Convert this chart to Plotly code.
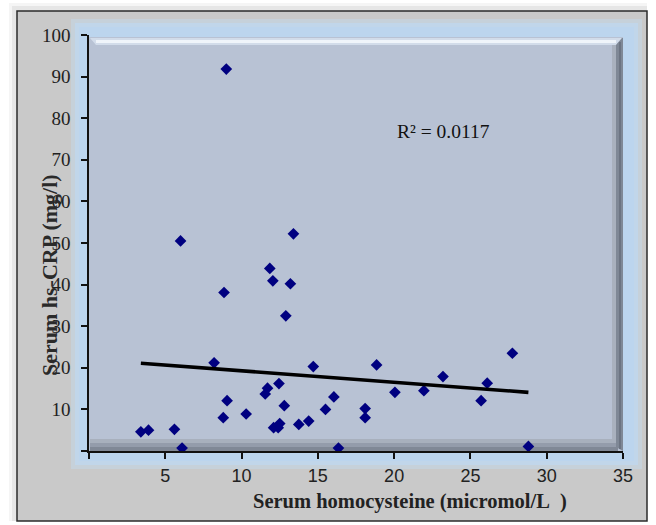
import plotly.graph_objects as go

# ---- data ----
homocysteine = [3.4, 3.9, 5.6, 6.1, 6.0, 8.2, 8.85, 8.8, 9.05, 9.0,
                10.3, 11.55, 11.7, 11.85, 12.05, 13.2, 12.9, 13.4, 12.45, 12.8,
                12.1, 12.4, 12.5, 13.75, 14.4, 14.7, 15.5, 16.05, 16.35, 18.1,
                18.1, 18.85, 20.05, 21.95, 23.2, 25.7, 26.1, 27.75, 28.8]
hs_crp = [4.6, 5.0, 5.2, 0.7, 50.5, 21.2, 38.1, 8.0, 12.1, 91.8,
          8.9, 13.7, 15.1, 43.9, 40.9, 40.2, 32.5, 52.2, 16.2, 10.9,
          5.6, 5.6, 6.6, 6.4, 7.2, 20.3, 10.0, 13.0, 0.7, 10.2,
          8.0, 20.7, 14.1, 14.5, 17.9, 12.1, 16.3, 23.5, 1.1]
# linear trendline as drawn in the reference (end points)
trend_x = [3.4, 28.8]
trend_y = [21.1, 14.1]
r2_label = "R² = 0.0117"
x_ticks = [0, 5, 10, 15, 20, 25, 30, 35]
x_tick_labels = ["", "5", "10", "15", "20", "25", "30", "35"]
y_ticks = [0, 10, 20, 30, 40, 50, 60, 70, 80, 90, 100]
y_tick_labels = ["", "10", "20", "30", "40", "50", "60", "70", "80", "90", "100"]
x_title = "Serum homocysteine (micromol/L\u00a0\u00a0)"
y_title = "Serum hs-CRP (mg/l)"

# ---- layout geometry (pixels) ----
W, H = 656, 525
L, R, T, B = 89, 33, 35, 74
PW, PH = W - L - R, H - T - B


def px(x):
    return (x - L) / PW


def py(y):
    return (H - B - y) / PH


def rect(x0, y0, x1, y1, fill, opacity=1.0, line=None):
    return dict(type="rect", xref="paper", yref="paper",
                x0=px(x0), x1=px(x1), y0=py(y1), y1=py(y0),
                fillcolor=fill, opacity=opacity, layer="below",
                line=dict(width=0) if line is None else line)


def poly(points, fill, opacity=1.0):
    path = "M " + " L ".join(f"{px(a)},{py(b)}" for a, b in points) + " Z"
    return dict(type="path", xref="paper", yref="paper", path=path,
                fillcolor=fill, opacity=opacity, layer="below",
                line=dict(width=0))


shapes = [
    # drop shadow of the chart frame
    rect(9, 3, 647, 521, "#000000", 0.04),
    rect(12, 6, 647, 521, "#000000", 0.06),
    # chart frame
    rect(17, 11, 647, 521, "#c9c9c9", 1.0, dict(color="#2b2b2b", width=1.5)),
    # blue glow around plot area
    rect(71, 19, 642, 469, "#c4d9ec", 0.5),
    rect(75, 23, 638, 465, "#bfd7ee", 0.8),
    rect(79, 27, 634, 461, "#bcd5ee", 1.0),
    # plot area
    rect(89, 37, 623, 451, "#b8c2d4"),
    # top highlight bevel
    poly([(90, 38), (622, 38), (616, 45), (96, 45)], "#d2dcea"),
    rect(96, 40, 616, 43, "#f2f6fc", 0.9),
    # right bevel
    poly([(612, 45), (616, 45), (616, 447), (612, 443)], "#a9b1be"),
    poly([(616, 45), (622, 38), (623, 38), (623, 451), (616, 447)], "#7f8896"),
    rect(619, 42, 621, 449, "#6c7482"),
    # bottom bevel
    rect(90, 439, 616, 443, "#a8b0bd"),
    rect(90, 443, 616, 447, "#949cab"),
    rect(90, 447, 618, 451, "#808896"),
]

fig = go.Figure()
fig.add_trace(go.Scatter(
    x=homocysteine, y=hs_crp, mode="markers",
    marker=dict(symbol="diamond", size=9, color="#000080",
                line=dict(width=0)),
    showlegend=False, hoverinfo="x+y"))
fig.add_trace(go.Scatter(
    x=trend_x, y=trend_y, mode="lines",
    line=dict(color="#000000", width=3.6),
    showlegend=False, hoverinfo="skip"))

annotations = [
    dict(text=r2_label, xref="paper", yref="paper", x=px(443), y=py(132),
         xanchor="center", yanchor="middle", showarrow=False,
         font=dict(family="Liberation Serif", size=19.5, color="#111111")),
    dict(text=f"<b>{x_title}</b>", xref="paper", yref="paper",
         x=px(410), y=py(502), xanchor="center", yanchor="middle",
         showarrow=False,
         font=dict(family="Liberation Serif", size=20.5, color="#222222")),
    dict(text=f"<b>{y_title}</b>", xref="paper", yref="paper",
         x=px(49), y=py(275), xanchor="center", yanchor="middle",
         textangle=-90, showarrow=False,
         font=dict(family="Liberation Serif", size=22, color="#2a2a2a")),
]

fig.update_layout(
    width=W, height=H,
    margin=dict(l=L, r=R, t=T, b=B, pad=0),
    paper_bgcolor="#ffffff",
    plot_bgcolor="rgba(0,0,0,0)",
    shapes=shapes,
    annotations=annotations,
    xaxis=dict(range=[0, 35], tickvals=x_ticks, ticktext=x_tick_labels,
               showgrid=False, zeroline=False, showline=True,
               linecolor="#111111", linewidth=1.5,
               ticks="outside", ticklen=6, tickwidth=1.5, tickcolor="#111111",
               ticklabelstandoff=2,
               tickfont=dict(family="Liberation Sans", size=18, color="#222222")),
    yaxis=dict(range=[0, 100], tickvals=y_ticks, ticktext=y_tick_labels,
               showgrid=False, zeroline=False, showline=True,
               linecolor="#111111", linewidth=1.5,
               ticks="outside", ticklen=6, tickwidth=1.5, tickcolor="#111111",
               ticklabelstandoff=7,
               tickfont=dict(family="Liberation Serif", size=19, color="#222222")),
)

fig.write_html("out.html",
               config={"displayModeBar": False},
               post_script="document.body.style.margin='0';")
